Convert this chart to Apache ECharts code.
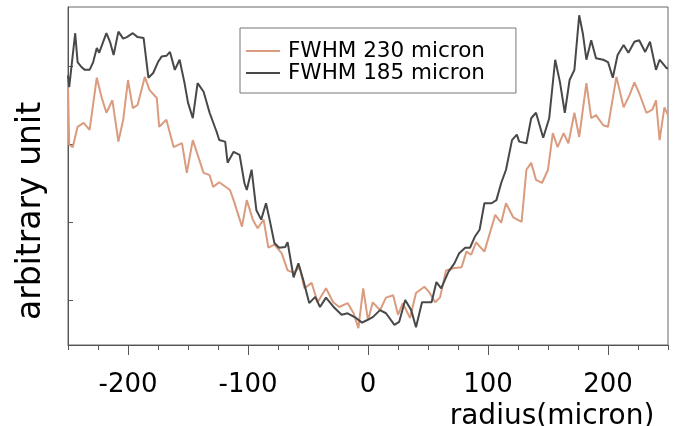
<!DOCTYPE html>
<html>
<head>
<meta charset="utf-8">
<script src="https://cdn.jsdelivr.net/npm/echarts@6/dist/echarts.min.js"></script>
<style>html,body{margin:0;padding:0;background:#fff}#c{width:674px;height:426px}</style>
</head>
<body>
<div id="c"></div>
<script>
// radius (micron) and intensity (arbitrary unit)
const r230 = [-250,-249,-246,-242,-237,-232,-226,-222,-218,-213,-208,-204,-200,-196,-192,-186,-182,-176,-174,-168,-162,-155,-151,-146,-137,-132,-129,-124,-115,-112,-105,-101,-96,-92,-87,-83,-78,-72,-67,-62,-57,-53,-47,-42,-35,-29,-24,-17,-12,-8,-4,0,4,10,15,21,25,29,35,40,47,51,56,60,65,72,78,82,86,90,97,106,111,115,121,128,132,136,140,145,150,154,158,163,167,172,176,182,186,190,196,200,207,213,218,222,226,232,237,240,243,247,250];
const v230 = [3.76,2.99,2.96,3.22,3.27,3.18,3.85,3.60,3.40,3.56,3.03,3.31,3.82,3.46,3.50,3.86,3.69,3.59,3.22,3.31,2.96,3.01,2.63,3.05,2.63,2.60,2.45,2.51,2.41,2.28,1.94,2.28,2.03,1.92,2.03,1.67,1.71,1.60,1.38,1.35,1.42,1.15,1.22,0.97,1.15,0.97,0.91,0.96,0.83,0.64,1.15,0.74,0.97,0.87,1.03,1.06,0.81,0.96,0.77,1.09,1.17,1.10,0.97,1.03,1.38,1.41,1.42,1.62,1.58,1.74,1.62,2.09,1.99,2.24,2.06,2.00,2.67,2.76,2.54,2.50,2.67,3.14,2.96,3.14,3.01,3.40,3.09,3.78,3.33,3.37,3.24,3.22,3.86,3.47,3.63,3.79,3.65,3.40,3.44,3.56,3.05,3.47,3.37];
const r185 = [-250,-249,-244,-242,-239,-236,-232,-229,-226,-224,-218,-215,-212,-208,-204,-201,-196,-192,-187,-183,-179,-175,-172,-168,-165,-161,-157,-153,-150,-146,-142,-137,-132,-126,-124,-119,-117,-112,-107,-103,-101,-97,-93,-89,-85,-82,-78,-74,-69,-67,-62,-58,-54,-49,-44,-40,-35,-28,-22,-17,-10,-5,-1,4,10,15,22,26,31,36,40,45,53,57,61,67,72,76,81,85,89,93,97,103,107,111,115,120,124,126,132,136,140,146,151,156,160,164,168,172,176,179,182,186,190,196,200,204,208,213,217,222,226,231,235,240,243,249,250];
const v185 = [3.88,3.73,4.42,4.05,3.99,3.95,3.95,4.05,4.23,4.17,4.42,4.31,4.14,4.44,4.35,4.37,4.42,4.37,4.36,3.85,3.91,4.05,4.12,4.13,4.18,3.95,4.08,3.79,3.53,3.33,3.78,3.67,3.40,3.15,3.05,3.03,2.76,2.90,2.86,2.50,2.41,2.67,2.15,2.03,2.24,2.03,1.73,1.67,1.68,1.74,1.29,1.47,1.26,0.96,1.04,0.91,1.03,0.90,0.81,0.83,0.77,0.71,0.74,0.78,0.87,0.83,0.68,0.72,1.00,0.87,0.65,0.97,0.97,1.23,1.15,1.36,1.47,1.60,1.67,1.67,1.81,1.90,2.24,2.24,2.28,2.50,2.67,3.05,3.12,3.03,3.01,3.33,3.40,3.08,3.33,4.08,3.79,3.40,3.82,3.95,4.65,4.42,4.08,4.33,4.10,4.08,4.05,3.85,4.14,4.27,4.17,4.31,4.33,4.18,4.31,3.95,4.08,3.97,3.97];
const seriesNames = ['FWHM 230 micron', 'FWHM 185 micron'];
const majorTicks = [-200, -100, 0, 100, 200];
const yTicks = [1, 2, 3, 4];

const pairs = (xs, ys) => xs.map((x, i) => [x, ys[i]]);
const FONT = 'DejaVu Sans';
const chart = echarts.init(document.getElementById('c'), null, {renderer: 'canvas'});
chart.setOption({
  animation: false,
  backgroundColor: '#fff',
  textStyle: {fontFamily: FONT},
  grid: {left: 68, right: 6, top: 7, bottom: 81, show: true, borderColor: '#666', borderWidth: 1, containLabel: false, outerBoundsMode: 'none'},
  legend: {
    data: seriesNames,
    orient: 'vertical', left: 240, top: 28,
    icon: 'rect', itemWidth: 34, itemHeight: 2, itemGap: 0,
    padding: [12, 31, 9, 6],
    borderColor: '#777', borderWidth: 1, backgroundColor: '#fff', borderRadius: 0,
    textStyle: {fontFamily: FONT, fontSize: 21.5, lineHeight: 21, color: '#000', padding: [0, 0, 0, 3]}
  },
  xAxis: [{
    type: 'value', min: -250, max: 250, interval: 25,
    axisLine: {show: true, onZero: false, lineStyle: {color: '#555', width: 1}},
    axisTick: {show: true, inside: false, length: 5, lineStyle: {color: '#555'}},
    axisLabel: {show: false},
    splitLine: {show: false}
  }, {
    type: 'value', min: -250, max: 250, position: 'bottom',
    name: 'radius(micron)', nameLocation: 'middle', nameGap: 44,
    nameTextStyle: {fontFamily: FONT, fontSize: 28, color: '#000', verticalAlign: 'top', lineHeight: 28, padding: [0, 0, 0, 368]},
    axisLine: {show: false, onZero: false},
    axisTick: {show: true, inside: false, length: 10, customValues: majorTicks, lineStyle: {color: '#555'}},
    axisLabel: {show: true, customValues: majorTicks, fontFamily: FONT, fontSize: 26, lineHeight: 26, margin: 27, color: '#000'},
    splitLine: {show: false}
  }],
  yAxis: {
    type: 'value', min: 0.423, max: 4.756,
    name: 'arbitrary unit', nameLocation: 'middle', nameGap: 20, nameRotate: 90,
    nameTextStyle: {fontFamily: FONT, fontSize: 33, color: '#000', padding: [0, 70, 0, 0]},
    axisLine: {show: true, onZero: false, lineStyle: {color: '#555', width: 1}},
    axisTick: {show: true, inside: true, length: 5, customValues: yTicks, lineStyle: {color: '#555'}},
    axisLabel: {show: false},
    splitLine: {show: false}
  },
  series: [{
    name: seriesNames[0], type: 'line', data: pairs(r230, v230), xAxisIndex: 0,
    symbol: 'none', lineStyle: {color: '#da9b7e', width: 2}, itemStyle: {color: '#da9b7e'}, clip: true
  }, {
    name: seriesNames[1], type: 'line', data: pairs(r185, v185), xAxisIndex: 0,
    symbol: 'none', lineStyle: {color: '#484848', width: 2}, itemStyle: {color: '#484848'}, clip: true
  }]
});
</script>
</body>
</html>
